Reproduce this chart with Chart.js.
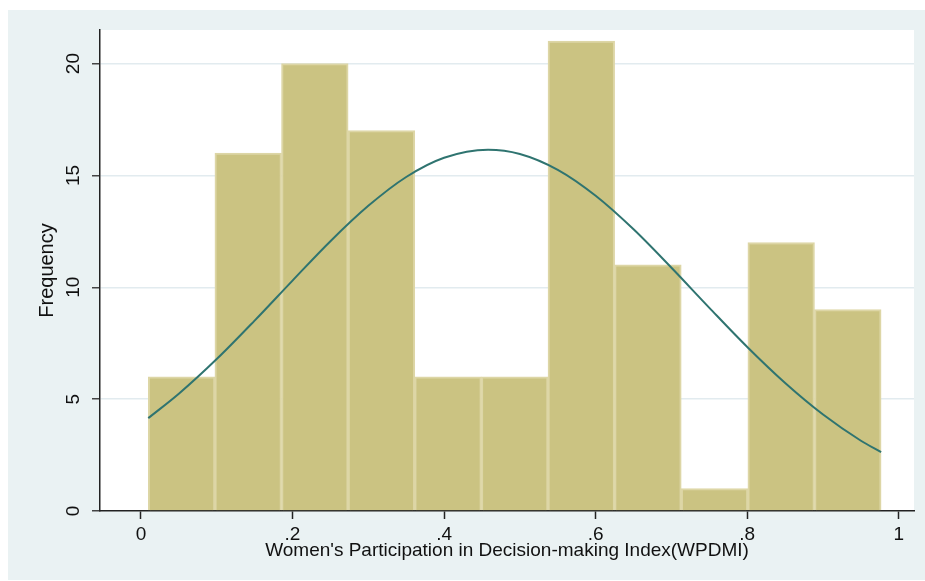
<!DOCTYPE html>
<html>
<head>
<meta charset="utf-8">
<script src="https://cdn.jsdelivr.net/npm/chart.js@4.4.1/dist/chart.umd.min.js"></script>
<style>
  html, body { margin: 0; padding: 0; background: #ffffff; }
  #wrap { width: 925px; height: 581px; }
</style>
</head>
<body>
<div id="wrap"><canvas id="histChart" width="925" height="581"></canvas></div>
<script>
// histogram bins (left edges + last right edge) and counts
binEdges = [0.0097, 0.0976, 0.1855, 0.2734, 0.3613, 0.4492, 0.5371, 0.6250, 0.7129, 0.8008, 0.8887, 0.9766]
counts = [6, 16, 20, 17, 6, 6, 21, 11, 1, 12, 9]

// normal density overlay, sampled off the curve in the picture
curveX = [0.0097, 0.05, 0.10, 0.15, 0.20, 0.25, 0.30, 0.35, 0.40, 0.458, 0.50, 0.55, 0.60, 0.65, 0.70, 0.75, 0.80, 0.85, 0.90, 0.95, 0.9766]
curveY = [4.15, 5.24, 6.79, 8.51, 10.30, 12.06, 13.64, 14.93, 15.79, 16.15, 15.96, 15.25, 14.09, 12.59, 10.87, 9.08, 7.33, 5.72, 4.31, 3.14, 2.63]

xTicks = [0, 0.2, 0.4, 0.6, 0.8, 1]
xTickLabels = ["0", ".2", ".4", ".6", ".8", "1"]
yTicks = [0, 5, 10, 15, 20]

xTitle = "Women's Participation in Decision-making Index(WPDMI)"
yTitle = "Frequency"

barData = counts.map((c, i) => ({x: (binEdges[i] + binEdges[i + 1]) / 2, y: c}))
lineData = curveX.map((x, i) => ({x: x, y: curveY[i]}))

// backgrounds + y labels/title (stata style, rotated)
stataLook = {
  id: "stataLook",
  beforeDraw(c) {
    ctx = c.ctx
    a = c.chartArea
    ctx.save()
    ctx.fillStyle = "#ffffff"
    ctx.fillRect(0, 0, c.width, c.height)
    ctx.fillStyle = "#eaf2f3"
    ctx.fillRect(8, 10, 917, 570)
    ctx.fillStyle = "#ffffff"
    ctx.fillRect(a.left, a.top, a.right - a.left, a.bottom - a.top)
    ctx.restore()
  },
  afterDraw(c) {
    ctx = c.ctx
    ys = c.scales.y
    a = c.chartArea
    ctx.save()
    ctx.fillStyle = "#111111"
    ctx.textAlign = "center"
    ctx.textBaseline = "middle"
    ctx.font = "19px 'Liberation Sans', Arial, sans-serif"
    yTicks.forEach(v => {
      ctx.save()
      ctx.translate(74, ys.getPixelForValue(v))
      ctx.rotate(-Math.PI / 2)
      ctx.fillText(String(v), 0, 0)
      ctx.restore()
    })
    ctx.font = "20px 'Liberation Sans', Arial, sans-serif"
    ctx.save()
    ctx.translate(47, (a.top + a.bottom) / 2)
    ctx.rotate(-Math.PI / 2)
    ctx.fillText(yTitle, 0, 0)
    ctx.restore()
    ctx.font = "19px 'Liberation Sans', Arial, sans-serif"
    ctx.fillText(xTitle, (a.left + a.right) / 2, 551)
    ctx.restore()
  }
}

histChart = new Chart(document.getElementById("histChart"), {
  data: {
    datasets: [
      {
        type: "line",
        data: lineData,
        borderColor: "#2f7470",
        borderWidth: 2,
        pointRadius: 0,
        cubicInterpolationMode: "monotone",
        fill: false,
        order: 0
      },
      {
        type: "bar",
        data: barData,
        backgroundColor: "#cbc382",
        borderColor: "#ddd6a6",
        borderWidth: 2,
        barPercentage: 1,
        categoryPercentage: 1,
        order: 1
      }
    ]
  },
  options: {
    responsive: false,
    animation: false,
    layout: { padding: { top: 30, right: 11, left: 0, bottom: 0 } },
    plugins: { legend: { display: false }, tooltip: { enabled: false } },
    scales: {
      x: {
        type: "linear",
        offset: false,
        min: -0.054,
        max: 1.02,
        afterBuildTicks: s => { s.ticks = xTicks.map(v => ({value: v})) },
        afterFit: s => { s.height = 70 },
        ticks: {
          callback: (v) => xTickLabels[xTicks.indexOf(v)],
          color: "#111111",
          font: { size: 19, family: "'Liberation Sans', Arial, sans-serif" },
          padding: 4,
          maxRotation: 0
        },
        grid: { offset: false, drawOnChartArea: false, tickLength: 8, tickColor: "#222222", tickWidth: 1.5 },
        border: { color: "#222222", width: 1.5 }
      },
      y: {
        min: 0,
        max: 21.5,
        afterBuildTicks: s => { s.ticks = yTicks.map(v => ({value: v})) },
        afterFit: s => { s.width = 100 },
        ticks: { display: false },
        grid: {
          color: ctx => ctx.tick && ctx.tick.value === 0 ? "rgba(0,0,0,0)" : "#e2ebef",
          lineWidth: 1.5,
          tickLength: 8,
          tickColor: "#444444",
          tickWidth: 1.5
        },
        border: { color: "#222222", width: 1.5 }
      }
    }
  },
  plugins: [stataLook]
})
</script>
</body>
</html>
